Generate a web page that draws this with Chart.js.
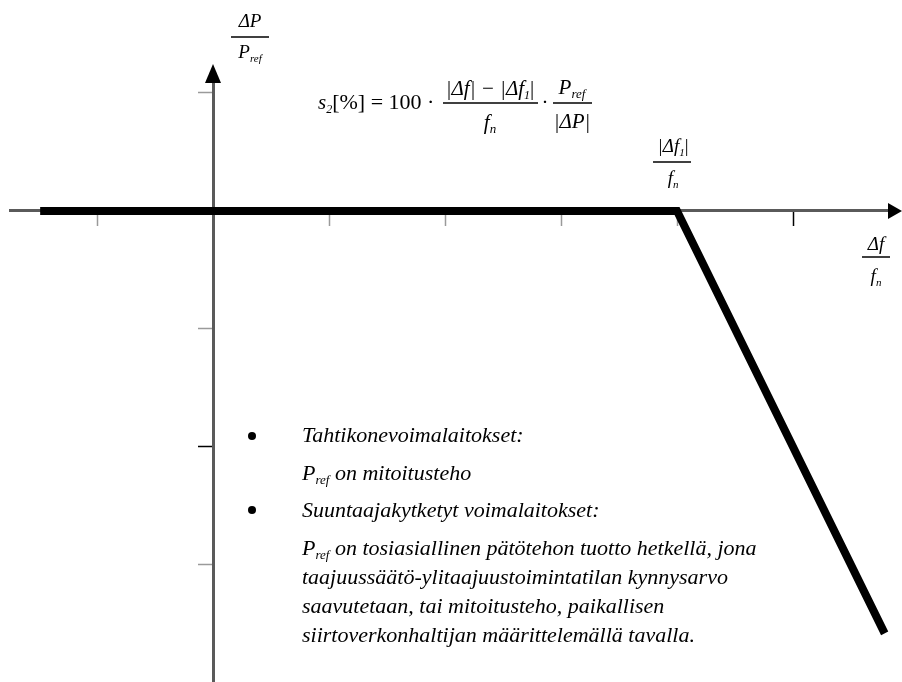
<!DOCTYPE html>
<html lang="fi">

<head>
    <script src="https://cdn.jsdelivr.net/npm/chart.js"></script>
    <meta charset="UTF-8">
    <title>Ylitaajuustoiminta</title>
    <style>
        body {
            margin: 0;
            background: #fff;
        }

        #droop {
            display: block;
        }
    </style>
</head>

<body>
    <canvas id="droop" width="902" height="682"></canvas>

    <script>
        // Pätötehon muutos taajuuden funktiona (yksiköt: akselin jaot)
        const droopX = [-1.49, 4, 5.79];
        const droopY = [0, 0, -3.58];

        // Akselien jakoviivat
        const xTicks = [-1, 0, 1, 2, 3, 4, 5];
        const yTicks = [1, 0, -1, -2, -3];
        const xTicksDark = [5];
        const yTicksDark = [-2];

        // Selitteen rivit
        const bulletTitles = ['Tahtikonevoimalaitokset:', 'Suuntaajakytketyt voimalaitokset:'];
        const bulletLines1 = ['on mitoitusteho'];
        const bulletLines2 = [
            'on tosiasiallinen pätötehon tuotto hetkellä, jona',
            'taajuussäätö-ylitaajuustoimintatilan kynnysarvo',
            'saavutetaan, tai mitoitusteho, paikallisen',
            'siirtoverkonhaltijan määrittelemällä tavalla.'
        ];

        const SERIF = '"Liberation Serif", "DejaVu Serif", serif';
        const AXIS_GREY = '#5a5a5a';

        function font(size, italic) {
            return (italic ? 'italic ' : '') + size + 'px ' + SERIF;
        }

        // draws a list of text parts side by side; parts: {t, size, it, dy}
        function drawRuns(ctx, parts, x, y, align) {
            let total = 0;
            parts.forEach(p => {
                ctx.font = font(p.size, p.it);
                p.w = ctx.measureText(p.t).width;
                total += p.w;
            });
            let cx = align === 'center' ? x - total / 2 : x;
            ctx.textAlign = 'left';
            ctx.textBaseline = 'alphabetic';
            parts.forEach(p => {
                ctx.font = font(p.size, p.it);
                ctx.fillText(p.t, cx, y + (p.dy || 0));
                cx += p.w;
            });
            return total;
        }

        function drawFraction(ctx, num, den, cx, barY, x1, x2, numY, denY) {
            drawRuns(ctx, num, cx, numY, 'center');
            drawRuns(ctx, den, cx, denY, 'center');
            ctx.beginPath();
            ctx.moveTo(x1, barY);
            ctx.lineTo(x2, barY);
            ctx.lineWidth = 1.5;
            ctx.strokeStyle = '#000';
            ctx.stroke();
        }

        const P_REF = (size) => [
            { t: 'P', size: size, it: true },
            { t: 'ref', size: Math.round(size * 0.6), it: true, dy: 4 }
        ];
        const F_N = (size) => [
            { t: 'f', size: size, it: true },
            { t: 'n', size: Math.round(size * 0.6), it: true, dy: 4 }
        ];

        const axisDecor = {
            id: 'axisDecor',
            afterDraw(chart) {
                const ctx = chart.ctx;
                const xs = chart.scales.x;
                const ys = chart.scales.y;
                const area = chart.chartArea;
                const x0 = xs.getPixelForValue(0);
                const y0 = ys.getPixelForValue(0);

                ctx.save();
                ctx.fillStyle = '#000';

                // nuolenkärjet
                ctx.beginPath();
                ctx.moveTo(x0, area.top - 16);
                ctx.lineTo(x0 - 8, area.top + 3);
                ctx.lineTo(x0 + 8, area.top + 3);
                ctx.closePath();
                ctx.fill();

                ctx.beginPath();
                ctx.moveTo(area.right + 12, y0);
                ctx.lineTo(area.right - 2, y0 - 8);
                ctx.lineTo(area.right - 2, y0 + 8);
                ctx.closePath();
                ctx.fill();

                // y-akselin nimi: ΔP / Pref
                drawFraction(ctx, [{ t: 'ΔP', size: 19, it: true }], P_REF(19), x0 + 37, 37, x0 + 18, x0 + 56, 27, 58);

                // statiikan kaava
                const fy = 109;
                let fx = 318;
                fx += drawRuns(ctx, [
                    { t: 's', size: 21, it: true },
                    { t: '2', size: 12, it: true, dy: 4 },
                    { t: '[%] = 100 ·', size: 22, it: false }
                ], fx, fy, 'left');
                drawFraction(ctx,
                    [{ t: '|Δf| − |Δf', size: 21, it: true }, { t: '1', size: 12, it: true, dy: 4 }, { t: '|', size: 21, it: false }],
                    F_N(21), 490, 103, 443, 538, 95, 129);
                drawRuns(ctx, [{ t: '·', size: 21, it: false }], 545, fy, 'center');
                drawFraction(ctx, P_REF(21), [{ t: '|ΔP|', size: 21, it: true }], 572, 103, 553, 592, 94, 128);

                // taitekohdan merkintä |Δf1| / fn
                const kx = xs.getPixelForValue(droopX[1]);
                drawFraction(ctx,
                    [{ t: '|Δf', size: 19, it: true }, { t: '1', size: 11, it: true, dy: 4 }, { t: '|', size: 19, it: false }],
                    F_N(19), kx - 4, 162, kx - 24, kx + 14, 152, 184);

                // x-akselin nimi: Δf / fn
                drawFraction(ctx, [{ t: 'Δf', size: 19, it: true }], F_N(19), 876, 257, 862, 890, 250, 282);

                // selite
                ctx.beginPath();
                ctx.arc(252, 436, 4, 0, Math.PI * 2);
                ctx.fill();
                ctx.beginPath();
                ctx.arc(252, 510, 4, 0, Math.PI * 2);
                ctx.fill();

                const tx = 302;
                const ts = 22;
                drawRuns(ctx, [{ t: bulletTitles[0], size: ts, it: true }], tx, 442, 'left');
                let w = drawRuns(ctx, P_REF(ts), tx, 480, 'left');
                drawRuns(ctx, [{ t: ' ' + bulletLines1[0], size: ts, it: true }], tx + w, 480, 'left');
                drawRuns(ctx, [{ t: bulletTitles[1], size: ts, it: true }], tx, 517, 'left');
                w = drawRuns(ctx, P_REF(ts), tx, 555, 'left');
                drawRuns(ctx, [{ t: ' ' + bulletLines2[0], size: ts, it: true }], tx + w, 555, 'left');
                for (let i = 1; i < bulletLines2.length; i++) {
                    drawRuns(ctx, [{ t: bulletLines2[i], size: ts, it: true }], tx, 555 + i * 29, 'left');
                }
                ctx.restore();
            }
        };

        function tickStyle(dark) {
            return ctx => (ctx.tick && dark.includes(ctx.tick.value)) ? '#000' : '#9a9a9a';
        }

        new Chart(document.getElementById('droop'), {
            type: 'scatter',
            data: {
                datasets: [{
                    data: droopX.map((x, i) => ({ x: x, y: droopY[i] })),
                    showLine: true,
                    borderColor: '#000',
                    borderWidth: 8,
                    borderCapStyle: 'butt',
                    borderJoinStyle: 'miter',
                    pointRadius: 0,
                    tension: 0
                }]
            },
            options: {
                responsive: false,
                animation: false,
                events: [],
                layout: {
                    padding: { left: 10, right: 12, top: 80, bottom: 0 }
                },
                plugins: {
                    legend: { display: false },
                    tooltip: { enabled: false }
                },
                scales: {
                    x: {
                        type: 'linear',
                        min: -1.75,
                        max: 5.836,
                        position: { y: 0 },
                        afterBuildTicks: scale => { scale.ticks = xTicks.map(v => ({ value: v })); },
                        ticks: { display: false },
                        grid: {
                            drawOnChartArea: false,
                            drawTicks: true,
                            tickLength: 14,
                            tickWidth: 1.5,
                            tickColor: tickStyle(xTicksDark)
                        },
                        border: { display: true, color: AXIS_GREY, width: 3 }
                    },
                    y: {
                        type: 'linear',
                        min: -3.992,
                        max: 1.11,
                        position: { x: 0 },
                        afterBuildTicks: scale => { scale.ticks = yTicks.map(v => ({ value: v })); },
                        ticks: { display: false },
                        grid: {
                            drawOnChartArea: false,
                            drawTicks: true,
                            tickLength: 14,
                            tickWidth: 1.5,
                            tickColor: tickStyle(yTicksDark)
                        },
                        border: { display: true, color: AXIS_GREY, width: 3 }
                    }
                }
            },
            plugins: [axisDecor]
        });
    </script>
</body>

</html>
